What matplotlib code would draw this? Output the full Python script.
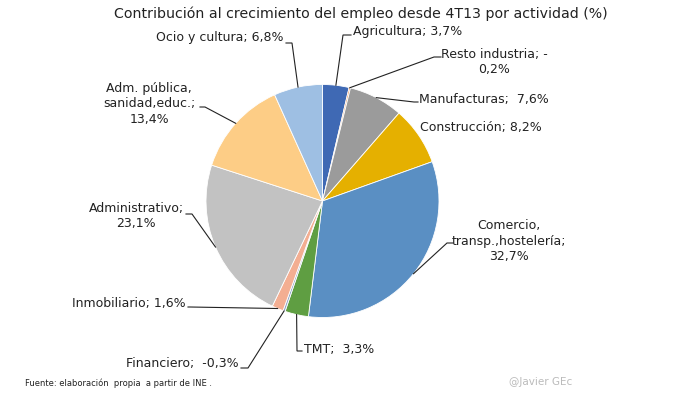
import numpy as np
import matplotlib
matplotlib.use("Agg")
import matplotlib.pyplot as plt

plt.rcParams['font.family'] = ['DejaVu Sans']

# ---- data ----
categories = ["Agricultura", "Resto industria", "Manufacturas", "Construcción",
              "Comercio, transp.,hostelería", "TMT", "Financiero", "Inmobiliario",
              "Administrativo", "Adm. pública, sanidad,educ.", "Ocio y cultura"]
values = [3.7, -0.2, 7.6, 8.2, 32.7, 3.3, -0.3, 1.6, 23.1, 13.4, 6.8]
label_texts = ["Agricultura; 3,7%", "Resto industria; -\n0,2%", "Manufacturas;  7,6%",
               "Construcción; 8,2%", "Comercio,\ntransp.,hostelería;\n32,7%", "TMT;  3,3%",
               "Financiero;  -0,3%", "Inmobiliario; 1,6%", "Administrativo;\n23,1%",
               "Adm. pública,\nsanidad,educ.;\n13,4%", "Ocio y cultura; 6,8%"]
colors = ["#3F69B4", "#ED7D31", "#9B9B9B", "#E5B000", "#5A8FC3", "#5F9E42",
          "#8FA6C8", "#F3AE92", "#C2C2C2", "#FDCD86", "#9EBFE3"]

W, H = 692, 395
fig = plt.figure(figsize=(W / 100, H / 100), dpi=100)
ax = fig.add_axes([0, 0, 1, 1])

def P(x, y):
    return (x, H - y)

cx, cy = P(322.5, 201)
R = 116.5
wedges, _ = ax.pie(np.abs(values), colors=colors, startangle=90, counterclock=False,
                   center=(cx, cy), radius=R, frame=True,
                   wedgeprops=dict(edgecolor='white', linewidth=0.6))
ax.set_xlim(0, W)
ax.set_ylim(0, H)
ax.set_aspect('equal')
ax.axis('off')

# label layout: (text x, text y, ha, elbow point, end point) in pixel coords
layout = [
    (353, 31, 'left', (343, 35), (351, 35)),
    (494, 62, 'center', (434, 57), (441, 57)),
    (419, 100, 'left', (414, 102), (418, 102)),
    (420, 127, 'left', None, None),
    (509, 241, 'center', (447, 243), (453, 243)),
    (304, 349, 'left', (297, 351), (302, 351)),
    (239, 364, 'right', (248, 368), (241, 368)),
    (186, 303, 'right', (190, 307), (188, 307)),
    (136, 216, 'center', (192, 214), (186, 214)),
    (149, 104, 'center', (205, 107), (200, 107)),
    (283, 38, 'right', (292, 43), (286, 43)),
]

for w, txt, (tx, ty, ha, elb, end) in zip(wedges, label_texts, layout):
    ang = np.deg2rad((w.theta1 + w.theta2) / 2)
    ax.text(*P(tx, ty), txt, ha=ha, va='center', fontsize=9, color='#222222',
            linespacing=1.25)
    if elb is not None:
        ax0 = cx + R * np.cos(ang)
        ay0 = cy + R * np.sin(ang)
        ex, ey = P(*elb)
        fx, fy = P(*end)
        ax.plot([ax0, ex, fx], [ay0, ey, fy], color='#222222', lw=0.8,
                solid_joinstyle='miter')

ax.text(*P(361, 14), "Contribución al crecimiento del empleo desde 4T13 por actividad (%)",
        ha='center', va='center', fontsize=10.2, color='#222222')
ax.text(*P(25, 383), "Fuente: elaboración  propia  a partir de INE .", ha='left', va='center',
        fontsize=6, color='#222222')
ax.text(*P(509, 382), "@Javier GEc", ha='left', va='center', fontsize=7.5, color='#BBBBBB')

fig.savefig("out.png", dpi=100)
